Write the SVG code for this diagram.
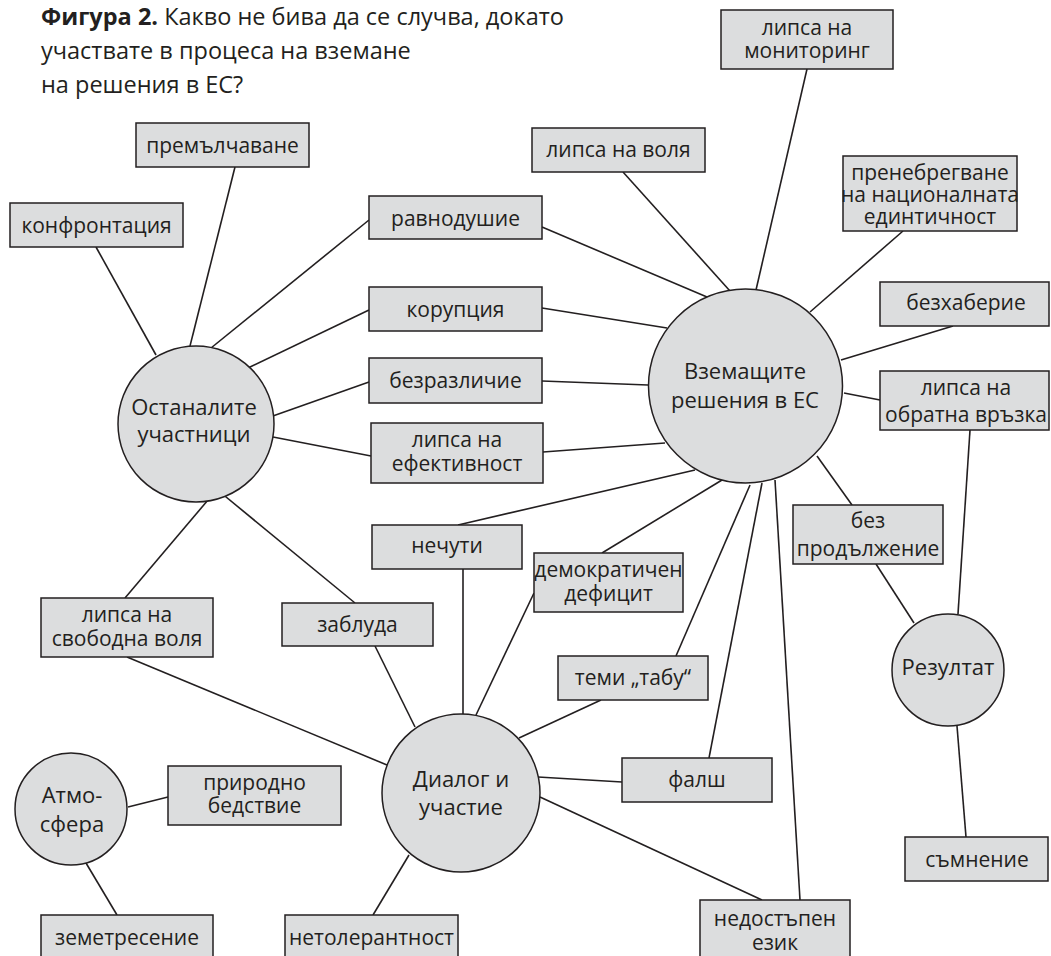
<svg xmlns="http://www.w3.org/2000/svg" width="1051" height="956" viewBox="0 0 1051 956">
<style>
.bg{fill:#ffffff}
.box{fill:#dcddde;stroke:#231f20;stroke-width:1.5}
.hub{fill:#dcddde;stroke:#231f20;stroke-width:1.5}
.ln{stroke:#231f20;stroke-width:1.6;fill:none}
.t{font-family:"Open Sans","Noto Sans",sans-serif;font-size:21px;fill:#231f20;text-anchor:middle}
.h{font-family:"Open Sans","Noto Sans",sans-serif;font-size:22px;fill:#231f20;text-anchor:middle}
.title{font-family:"Open Sans","Noto Sans",sans-serif;font-size:23.5px;fill:#231f20}
.b{font-weight:bold}
</style>
<rect class="bg" x="0" y="0" width="1051" height="956"/>
<g id="title">
<text class="title" x="41" y="25"><tspan class="b">Фигура 2.</tspan> Какво не бива да се случва, докато</text>
<text class="title" x="41" y="59">участвате в процеса на вземане</text>
<text class="title" x="41" y="93">на решения в ЕС?</text>
</g>
<g id="connectors">
<line class="ln" x1="96" y1="247" x2="156" y2="355"/>
<line class="ln" x1="235" y1="167" x2="190" y2="346"/>
<line class="ln" x1="369" y1="220" x2="211" y2="348"/>
<line class="ln" x1="369" y1="310" x2="248" y2="368"/>
<line class="ln" x1="369" y1="382" x2="270" y2="417"/>
<line class="ln" x1="371" y1="456" x2="273" y2="437"/>
<line class="ln" x1="125" y1="598" x2="208" y2="500"/>
<line class="ln" x1="355" y1="603" x2="220" y2="492"/>
<line class="ln" x1="542" y1="227" x2="707" y2="297"/>
<line class="ln" x1="623" y1="172" x2="730" y2="291"/>
<line class="ln" x1="807" y1="69" x2="756" y2="290"/>
<line class="ln" x1="903" y1="231" x2="810" y2="312"/>
<line class="ln" x1="953" y1="326" x2="841" y2="360"/>
<line class="ln" x1="880" y1="400" x2="844" y2="393"/>
<line class="ln" x1="542" y1="308" x2="667" y2="328"/>
<line class="ln" x1="542" y1="381" x2="648" y2="385"/>
<line class="ln" x1="543" y1="452" x2="665" y2="443"/>
<line class="ln" x1="458" y1="525" x2="695" y2="470"/>
<line class="ln" x1="602" y1="553" x2="722" y2="480"/>
<line class="ln" x1="676" y1="656" x2="750" y2="485"/>
<line class="ln" x1="709" y1="758" x2="762" y2="483"/>
<line class="ln" x1="800" y1="900" x2="775" y2="480"/>
<line class="ln" x1="852" y1="505" x2="817" y2="456"/>
<line class="ln" x1="970" y1="430" x2="958" y2="614"/>
<line class="ln" x1="876" y1="564" x2="914" y2="623"/>
<line class="ln" x1="957" y1="726" x2="966" y2="837"/>
<line class="ln" x1="127" y1="657" x2="387" y2="765"/>
<line class="ln" x1="375" y1="646" x2="415" y2="727"/>
<line class="ln" x1="463" y1="569" x2="463" y2="714"/>
<line class="ln" x1="534" y1="593" x2="476" y2="715"/>
<line class="ln" x1="601" y1="700" x2="519" y2="738"/>
<line class="ln" x1="622" y1="782" x2="538" y2="777"/>
<line class="ln" x1="762" y1="900" x2="540" y2="797"/>
<line class="ln" x1="373" y1="915" x2="409" y2="855"/>
<line class="ln" x1="168" y1="797" x2="128" y2="807"/>
<line class="ln" x1="117" y1="915" x2="86" y2="863"/>
</g>
<g id="hub-ostanalite"><circle class="hub" cx="196" cy="424" r="78"/><text class="h" x="194" y="415">Останалите</text><text class="h" x="194" y="442">участници</text></g>
<g id="hub-vzemashtite"><circle class="hub" cx="745.5" cy="386" r="97"/><text class="h" x="745" y="379">Вземащите</text><text class="h" x="745" y="408">решения в ЕС</text></g>
<g id="hub-dialog"><circle class="hub" cx="461" cy="793" r="79"/><text class="h" x="461" y="787">Диалог и</text><text class="h" x="461" y="815">участие</text></g>
<g id="hub-atmosfera"><circle class="hub" cx="71" cy="809" r="56"/><text class="h" x="72" y="803">Атмо-</text><text class="h" x="72" y="832">сфера</text></g>
<g id="hub-rezultat"><circle class="hub" cx="948" cy="670" r="56"/><text class="h" x="948" y="675">Резултат</text></g>
<g id="n-konfrontacia"><rect class="box" x="10" y="203" width="173" height="44"/><text class="t" x="96.5" y="233">конфронтация</text></g>
<g id="n-premalchavane"><rect class="box" x="136" y="123" width="173" height="44"/><text class="t" x="222.5" y="153">премълчаване</text></g>
<g id="n-ravnodushie"><rect class="box" x="369" y="196" width="173" height="43"/><text class="t" x="455.5" y="226">равнодушие</text></g>
<g id="n-korupcia"><rect class="box" x="369" y="287" width="173" height="44"/><text class="t" x="455.5" y="317">корупция</text></g>
<g id="n-bezrazlichie"><rect class="box" x="369" y="358" width="173" height="45"/><text class="t" x="455.5" y="388">безразличие</text></g>
<g id="n-efektivnost"><rect class="box" x="371" y="423" width="172" height="60"/><text class="t" x="457" y="447">липса на</text><text class="t" x="457" y="471">ефективност</text></g>
<g id="n-volya"><rect class="box" x="532" y="128" width="173" height="44"/><text class="t" x="618.5" y="157">липса на воля</text></g>
<g id="n-monitoring"><rect class="box" x="721" y="10" width="172" height="59"/><text class="t" x="807" y="35">липса на</text><text class="t" x="807" y="58">мониторинг</text></g>
<g id="n-prenebregvane"><rect class="box" x="843" y="156" width="174" height="75"/><text class="t" x="930" y="180">пренебрегване</text><text class="t" x="930" y="202">на националната</text><text class="t" x="930" y="224">единтичност</text></g>
<g id="n-bezhaberie"><rect class="box" x="880" y="282" width="169" height="44"/><text class="t" x="966" y="310">безхаберие</text></g>
<g id="n-obratna"><rect class="box" x="880" y="371" width="169" height="59"/><text class="t" x="966" y="395">липса на</text><text class="t" x="966" y="422">обратна връзка</text></g>
<g id="n-bezprodalzhenie"><rect class="box" x="793" y="505" width="150" height="59"/><text class="t" x="868" y="528">без</text><text class="t" x="868" y="556">продължение</text></g>
<g id="n-nechuti"><rect class="box" x="372" y="525" width="150" height="44"/><text class="t" x="447" y="553">нечути</text></g>
<g id="n-demokratichen"><rect class="box" x="534" y="553" width="149" height="59"/><text class="t" x="608.5" y="577">демократичен</text><text class="t" x="608.5" y="601">дефицит</text></g>
<g id="n-tabu"><rect class="box" x="558" y="656" width="150" height="44"/><text class="t" x="633" y="685">теми „табу“</text></g>
<g id="n-falsh"><rect class="box" x="622" y="758" width="150" height="44"/><text class="t" x="697" y="787">фалш</text></g>
<g id="n-nedostapen"><rect class="box" x="700" y="900" width="150" height="62"/><text class="t" x="775" y="926">недостъпен</text><text class="t" x="775" y="950">език</text></g>
<g id="n-somnenie"><rect class="box" x="905" y="837" width="143" height="44"/><text class="t" x="977" y="867">съмнение</text></g>
<g id="n-zabluda"><rect class="box" x="282" y="603" width="151" height="43"/><text class="t" x="357.5" y="632">заблуда</text></g>
<g id="n-svobodna"><rect class="box" x="41" y="598" width="172" height="59"/><text class="t" x="127" y="622">липса на</text><text class="t" x="127" y="646">свободна воля</text></g>
<g id="n-prirodno"><rect class="box" x="168" y="766" width="173" height="59"/><text class="t" x="254.5" y="790">природно</text><text class="t" x="254.5" y="813">бедствие</text></g>
<g id="n-zemetresenie"><rect class="box" x="41" y="915" width="172" height="46"/><text class="t" x="127" y="945">земетресение</text></g>
<g id="n-netolerantnost"><rect class="box" x="285" y="915" width="173" height="46"/><text class="t" x="371.5" y="945">нетолерантност</text></g>
</svg>
